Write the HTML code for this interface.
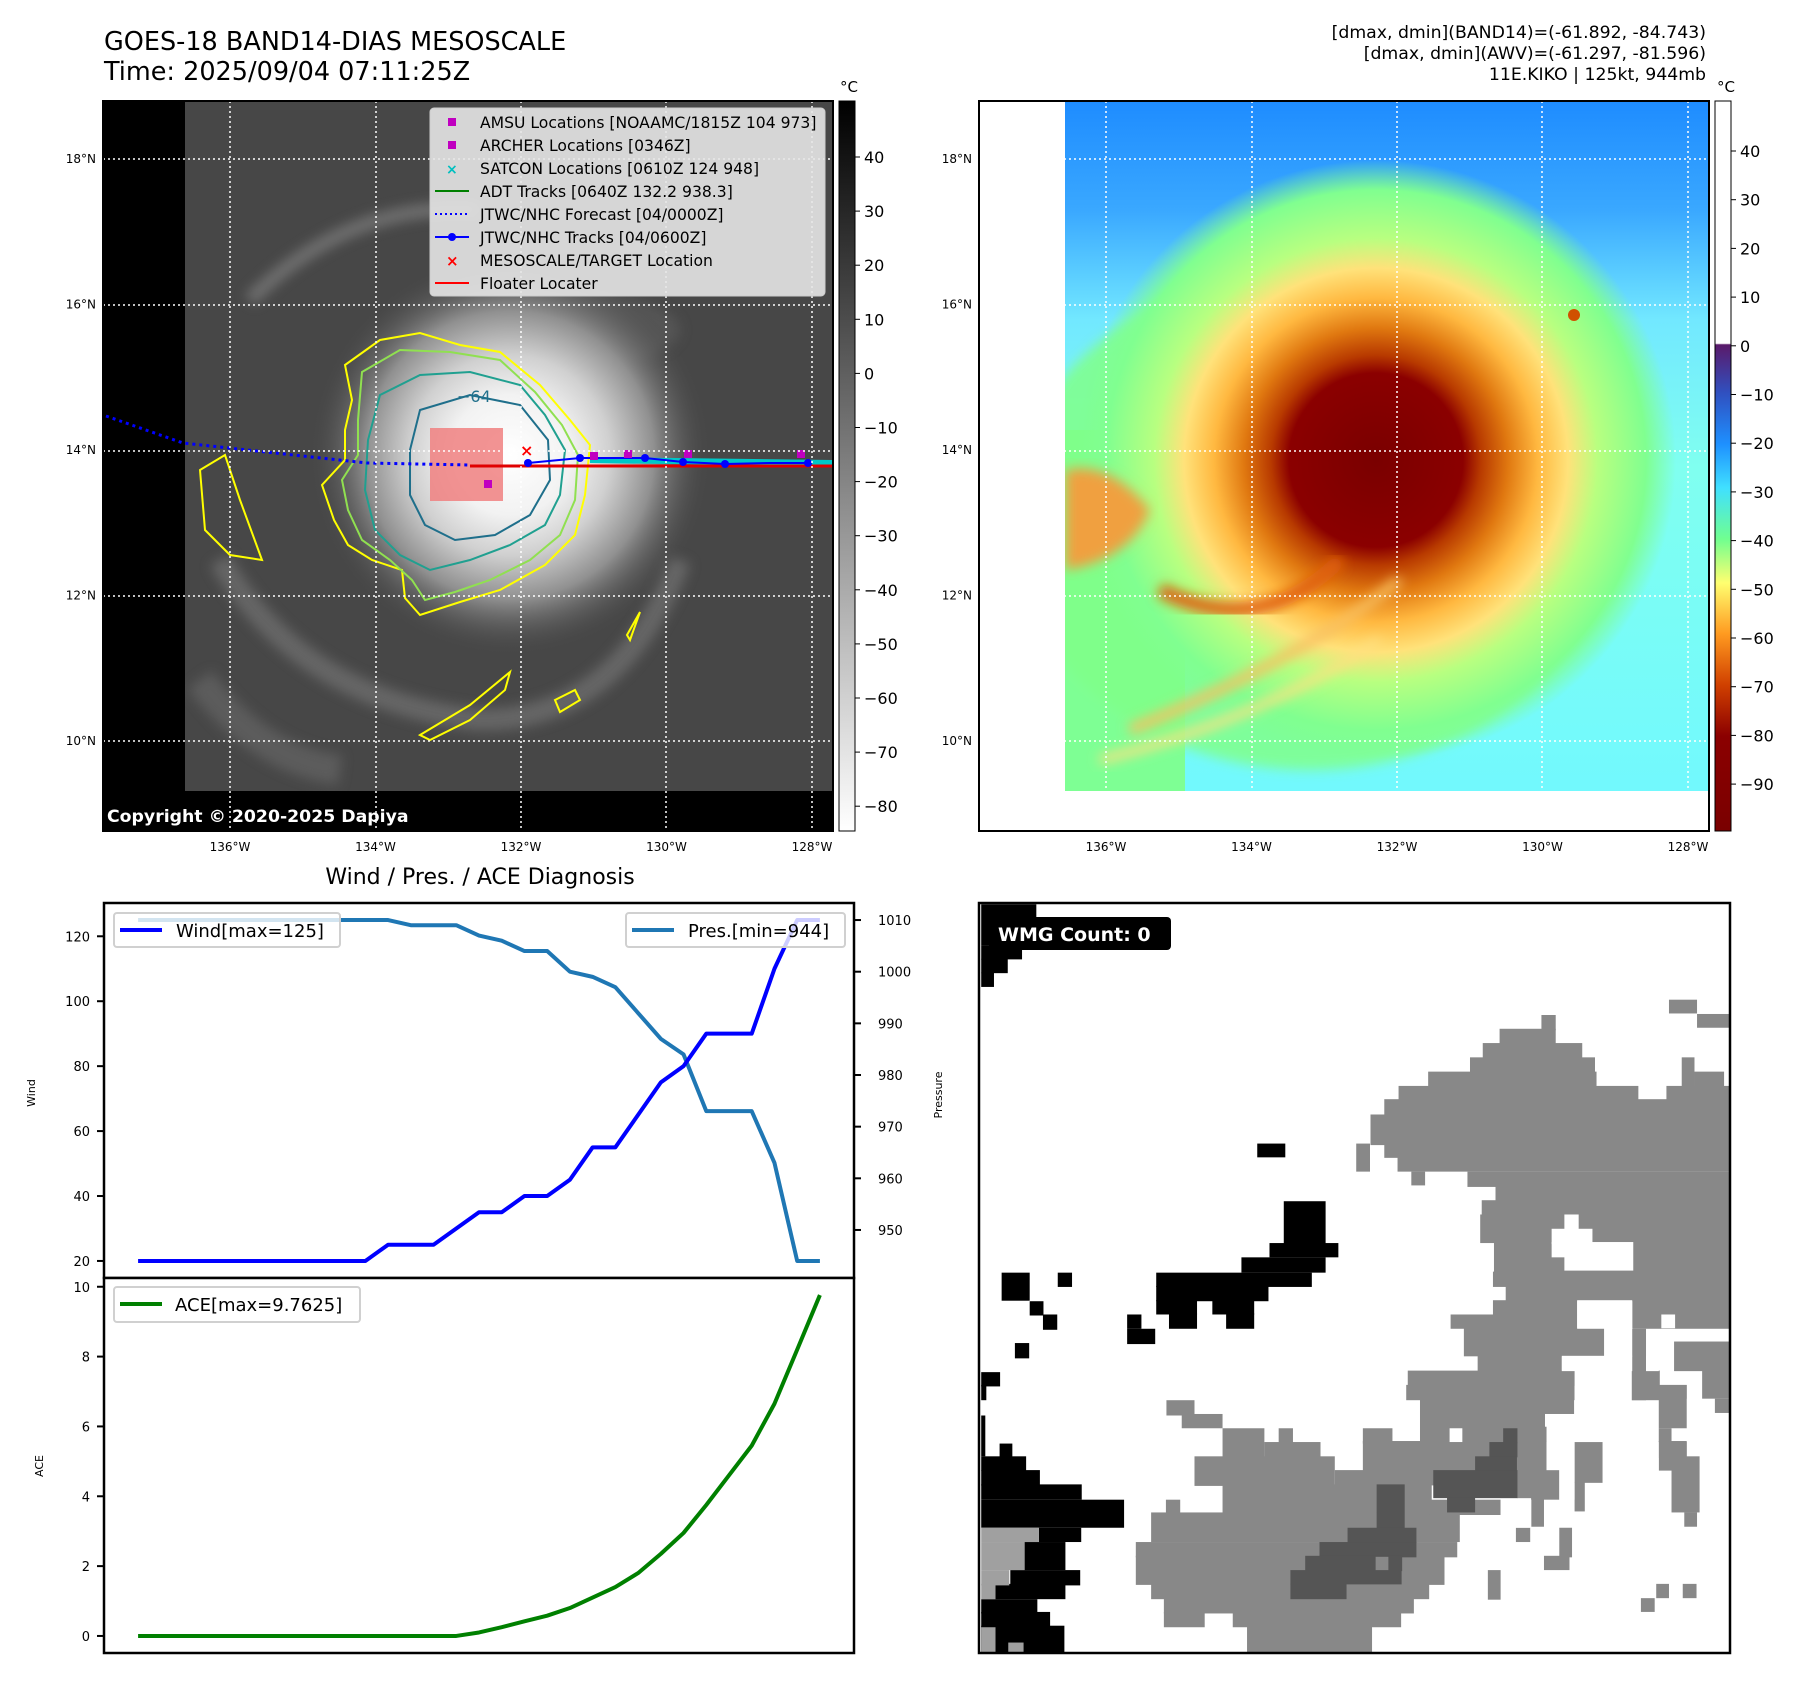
<!DOCTYPE html>
<html><head><meta charset="utf-8">
<style>
html,body{margin:0;padding:0;background:#fff;}
body{width:1797px;height:1690px;position:relative;overflow:hidden;font-family:"DejaVu Sans","Liberation Sans",sans-serif;}
svg text{font-family:"DejaVu Sans","Liberation Sans",sans-serif;}
</style></head>
<body>
<svg id="fig" width="1797" height="1690" viewBox="0 0 1797 1690" xmlns="http://www.w3.org/2000/svg">
<defs>
  <radialGradient id="irCore" cx="510" cy="455" r="200" gradientUnits="userSpaceOnUse">
    <stop offset="0" stop-color="#ffffff"/>
    <stop offset="0.3" stop-color="#f2f2f2"/>
    <stop offset="0.5" stop-color="#d0d0d0"/>
    <stop offset="0.72" stop-color="#909090"/>
    <stop offset="1" stop-color="#4a4a4a" stop-opacity="0"/>
  </radialGradient>
  <radialGradient id="awvCore" cx="1376" cy="460" r="300" gradientUnits="userSpaceOnUse">
    <stop offset="0" stop-color="#7a0000"/>
    <stop offset="0.29" stop-color="#8b0000"/>
    <stop offset="0.35" stop-color="#b83a00"/>
    <stop offset="0.44" stop-color="#e07810"/>
    <stop offset="0.54" stop-color="#ffb840"/>
    <stop offset="0.64" stop-color="#ffe27a"/>
    <stop offset="0.74" stop-color="#b8ff80"/>
    <stop offset="0.9" stop-color="#80ff90"/>
    <stop offset="1" stop-color="#80ff90" stop-opacity="0"/>
  </radialGradient>
  <linearGradient id="awvBg" x1="0" y1="101" x2="0" y2="831" gradientUnits="userSpaceOnUse">
    <stop offset="0" stop-color="#1e8cff"/>
    <stop offset="0.15" stop-color="#3aa8ff"/>
    <stop offset="0.3" stop-color="#72e8ff"/>
    <stop offset="0.5" stop-color="#80fff0"/>
    <stop offset="1" stop-color="#70f8ff"/>
  </linearGradient>
  <linearGradient id="grayCbar" x1="0" y1="101" x2="0" y2="831" gradientUnits="userSpaceOnUse">
    <stop offset="0" stop-color="#000"/>
    <stop offset="1" stop-color="#fff"/>
  </linearGradient>
  <linearGradient id="awvCbar" x1="0" y1="101" x2="0" y2="831" gradientUnits="userSpaceOnUse">
    <stop offset="0" stop-color="#fff"/>
    <stop offset="0.332" stop-color="#fff"/>
    <stop offset="0.334" stop-color="#5a1a6a"/>
    <stop offset="0.4" stop-color="#3050c0"/>
    <stop offset="0.47" stop-color="#1e90ff"/>
    <stop offset="0.53" stop-color="#40e0ff"/>
    <stop offset="0.6" stop-color="#70ff90"/>
    <stop offset="0.66" stop-color="#ffff70"/>
    <stop offset="0.73" stop-color="#ff9a20"/>
    <stop offset="0.8" stop-color="#d04000"/>
    <stop offset="0.87" stop-color="#8b0000"/>
    <stop offset="1" stop-color="#7a0000"/>
  </linearGradient>
  <clipPath id="clipL"><rect x="103" y="101" width="730" height="730"/></clipPath>
  <clipPath id="clipR"><rect x="979" y="101" width="730" height="730"/></clipPath>
  <clipPath id="clipRData"><rect x="1065" y="101" width="644" height="690"/></clipPath>
  <clipPath id="clipLData"><rect x="185" y="101" width="648" height="690"/></clipPath>
  <filter id="blur6"><feGaussianBlur stdDeviation="6"/></filter>
</defs>

<text x="104" y="50" font-size="25.5">GOES-18 BAND14-DIAS MESOSCALE</text>
<text x="104" y="80" font-size="25.5">Time: 2025/09/04 07:11:25Z</text>
<text x="1706" y="38" font-size="17.3" text-anchor="end">[dmax, dmin](BAND14)=(-61.892, -84.743)</text>
<text x="1706" y="59" font-size="17.3" text-anchor="end">[dmax, dmin](AWV)=(-61.297, -81.596)</text>
<text x="1706" y="80" font-size="17.3" text-anchor="end">11E.KIKO | 125kt, 944mb</text>

<!-- LEFT MAP -->
<g clip-path="url(#clipL)">
  <rect x="103" y="101" width="730" height="730" fill="#000"/>
  <g clip-path="url(#clipLData)">
  <rect x="185" y="101" width="648" height="690" fill="#474747"/>
  <g filter="url(#blur6)" opacity="0.6">
    <path d="M250 300 Q350 200 480 210" stroke="#8a8a8a" stroke-width="14" fill="none"/>
    <path d="M220 560 Q300 700 480 720 Q620 720 680 560" stroke="#7a7a7a" stroke-width="22" fill="none"/>
    <path d="M200 680 Q260 760 340 770" stroke="#6a6a6a" stroke-width="30" fill="none"/>
    <ellipse cx="560" cy="330" rx="120" ry="40" fill="#5f5f5f"/>
  </g>
  <circle cx="510" cy="455" r="200" fill="url(#irCore)"/>
  </g>
  <path d="M345 365 L380 340 L420 333 L460 345 L500 352 L540 385 L570 420 L590 445 L585 495 L575 535 L545 565 L500 590 L460 602 L420 615 L405 598 L402 570 L372 560 L348 545 L334 520 L322 485 L345 460 L345 430 L352 400 Z" fill="none" stroke="#ffff00" stroke-width="2"/>
  <path d="M362 372 L400 350 L450 352 L500 360 L535 392 L562 425 L578 455 L575 500 L560 535 L530 560 L490 580 L455 592 L425 600 L412 580 L390 560 L362 540 L348 510 L342 480 L358 455 L358 420 Z" fill="none" stroke="#90e050" stroke-width="2"/>
  <path d="M380 395 L420 375 L470 372 L520 385 L545 415 L565 450 L560 495 L545 525 L510 545 L470 560 L430 570 L400 555 L375 530 L365 490 L368 440 Z" fill="none" stroke="#20a090" stroke-width="2"/>
  <path d="M420 410 L470 395 L520 405 L548 440 L550 480 L530 515 L495 535 L455 540 L425 525 L410 495 L410 450 Z" fill="none" stroke="#1f6f8b" stroke-width="2"/>
  <path d="M200 470 L225 455 L240 500 L262 560 L230 555 L205 530 Z" fill="none" stroke="#ffff00" stroke-width="2"/>
  <path d="M420 735 L470 705 L510 672 L505 690 L470 720 L430 740 Z" fill="none" stroke="#ffff00" stroke-width="2"/>
  <path d="M555 700 L575 690 L580 700 L560 712 Z" fill="none" stroke="#ffff00" stroke-width="2"/>
  <path d="M627 635 L640 612 L630 640 Z" fill="none" stroke="#ffff00" stroke-width="2"/>
  <text x="457" y="402" font-size="16" fill="#1f6f8b">−64</text>
  <rect x="430" y="428" width="73" height="73" fill="#f08080" opacity="0.85"/>
  <polyline points="106,416 183,443 367,463 470,465" fill="none" stroke="#0000ff" stroke-width="3" stroke-dasharray="3,4"/>
  <line x1="590" y1="460" x2="833" y2="463" stroke="#00c8c8" stroke-width="6"/>
  <line x1="470" y1="466" x2="833" y2="466" stroke="#e00000" stroke-width="3"/>
  <polyline points="528,463 580,458 645,458 683,462 725,464 770,463 808,463" fill="none" stroke="#0000ff" stroke-width="2"/>
  <g fill="#0000ff"><circle cx="528" cy="463" r="4"/><circle cx="580" cy="458" r="4"/><circle cx="645" cy="458" r="4"/><circle cx="683" cy="462" r="4"/><circle cx="725" cy="464" r="4"/><circle cx="808" cy="463" r="4"/></g>
  <g fill="#c000c0"><rect x="590" y="452" width="8" height="8"/><rect x="624" y="450" width="8" height="8"/><rect x="684" y="450" width="8" height="8"/><rect x="797" y="450" width="8" height="8"/><rect x="484" y="480" width="8" height="8"/></g>
  <text x="520" y="456" font-size="16" fill="#ff0000" font-weight="bold">×</text>
  <g stroke="#fff" stroke-width="1.5" stroke-dasharray="2,3">
    <line x1="230" y1="101" x2="230" y2="831"/><line x1="376" y1="101" x2="376" y2="831"/><line x1="521" y1="101" x2="521" y2="831"/><line x1="666" y1="101" x2="666" y2="831"/><line x1="812" y1="101" x2="812" y2="831"/>
    <line x1="103" y1="159" x2="833" y2="159"/><line x1="103" y1="305" x2="833" y2="305"/><line x1="103" y1="451" x2="833" y2="451"/><line x1="103" y1="596" x2="833" y2="596"/><line x1="103" y1="741" x2="833" y2="741"/>
  </g>
  <g>
    <rect x="430" y="108" width="395" height="188" rx="4" fill="#e6e6e6" fill-opacity="0.9" stroke="#ccc"/>
    <rect x="448" y="118" width="8" height="8" fill="#c000c0"/>
    <text x="480" y="128" font-size="15.6">AMSU Locations [NOAAMC/1815Z 104 973]</text>
    <rect x="448" y="141" width="8" height="8" fill="#c000c0"/>
    <text x="480" y="151" font-size="15.6">ARCHER Locations [0346Z]</text>
    <text x="446" y="174" font-size="14" fill="#00bfbf" font-weight="bold">×</text>
    <text x="480" y="174" font-size="15.6">SATCON Locations [0610Z 124 948]</text>
    <line x1="435" y1="191" x2="469" y2="191" stroke="#008000" stroke-width="2"/>
    <text x="480" y="197" font-size="15.6">ADT Tracks [0640Z 132.2 938.3]</text>
    <line x1="435" y1="214" x2="469" y2="214" stroke="#0000ff" stroke-width="2" stroke-dasharray="2,3"/>
    <text x="480" y="220" font-size="15.6">JTWC/NHC Forecast [04/0000Z]</text>
    <line x1="435" y1="237" x2="469" y2="237" stroke="#0000ff" stroke-width="2"/><circle cx="452" cy="237" r="4" fill="#0000ff"/>
    <text x="480" y="243" font-size="15.6">JTWC/NHC Tracks [04/0600Z]</text>
    <text x="446" y="266" font-size="15" fill="#ff0000" font-weight="bold">×</text>
    <text x="480" y="266" font-size="15.6">MESOSCALE/TARGET Location</text>
    <line x1="435" y1="283" x2="469" y2="283" stroke="#ff0000" stroke-width="2"/>
    <text x="480" y="289" font-size="15.6">Floater Locater</text>
  </g>
  <text x="107" y="822" font-size="17.3" font-weight="bold" fill="#fff">Copyright © 2020-2025 Dapiya</text>
</g>
<rect x="103" y="101" width="730" height="730" fill="none" stroke="#000" stroke-width="2"/>

<g>
  <rect x="839" y="101" width="16" height="730" fill="url(#grayCbar)" stroke="#000" stroke-width="1"/>
  <text x="849" y="92" font-size="15" text-anchor="middle">°C</text>
  <g id="cbarLTicks" font-size="16"></g>
</g>

<g font-size="12" id="geoLabels"></g>

<!-- RIGHT MAP -->
<g clip-path="url(#clipR)">
  <rect x="979" y="101" width="730" height="730" fill="#fff"/>
  <g clip-path="url(#clipRData)">
    <rect x="1065" y="101" width="644" height="690" fill="url(#awvBg)"/>
    <ellipse cx="1310" cy="520" rx="300" ry="250" fill="#80ff90" opacity="0.9" filter="url(#blur6)"/>
    <rect x="1065" y="430" width="120" height="361" fill="#80ff88" opacity="0.9"/>
    <circle cx="1376" cy="460" r="300" fill="url(#awvCore)"/>
    <path d="M1065 470 Q1110 460 1150 510 Q1130 560 1065 570 Z" fill="#f0a040" filter="url(#blur6)"/>
    <path d="M1130 730 Q1300 660 1400 580" stroke="#f8c060" stroke-width="10" fill="none" filter="url(#blur6)"/>
    <path d="M1100 760 Q1260 720 1380 640" stroke="#ffe080" stroke-width="8" fill="none" filter="url(#blur6)"/>
    <path d="M1160 590 Q1260 640 1340 560" stroke="#e06010" stroke-width="14" fill="none" filter="url(#blur6)"/>
    <circle cx="1574" cy="315" r="6" fill="#d05000"/>
    <g stroke="#fff" stroke-width="1.5" stroke-dasharray="2,3">
      <line x1="1106" y1="101" x2="1106" y2="831"/><line x1="1252" y1="101" x2="1252" y2="831"/><line x1="1397" y1="101" x2="1397" y2="831"/><line x1="1542" y1="101" x2="1542" y2="831"/><line x1="1688" y1="101" x2="1688" y2="831"/>
      <line x1="979" y1="159" x2="1709" y2="159"/><line x1="979" y1="305" x2="1709" y2="305"/><line x1="979" y1="451" x2="1709" y2="451"/><line x1="979" y1="596" x2="1709" y2="596"/><line x1="979" y1="741" x2="1709" y2="741"/>
    </g>
  </g>
</g>
<rect x="979" y="101" width="730" height="730" fill="none" stroke="#000" stroke-width="2"/>
<g>
  <rect x="1715" y="101" width="16" height="730" fill="url(#awvCbar)" stroke="#000" stroke-width="1"/>
  <text x="1726" y="92" font-size="15" text-anchor="middle">°C</text>
  <g id="cbarRTicks" font-size="16"></g>
</g>

<text x="480" y="884" font-size="22" text-anchor="middle">Wind / Pres. / ACE Diagnosis</text>
<g id="charts"></g>

<!-- WMG panel -->
<g>
  <rect x="979" y="903" width="751" height="750" fill="#fff"/>
  <g transform="translate(970,890) scale(0.5102)">
    <g fill="#888888">
      <rect x="1038" y="272" width="110" height="30"/><rect x="1120" y="245" width="28" height="30"/>
      <rect x="1005" y="300" width="195" height="30"/><rect x="980" y="328" width="245" height="30"/>
      <rect x="898" y="356" width="330" height="30"/><rect x="840" y="384" width="470" height="30"/>
      <rect x="1365" y="384" width="123" height="30"/><rect x="1395" y="328" width="25" height="60"/><rect x="1420" y="356" width="58" height="30"/>
      <rect x="812" y="410" width="676" height="32"/><rect x="785" y="440" width="703" height="60"/>
      <rect x="812" y="497" width="676" height="28"/><rect x="838" y="524" width="650" height="28"/>
      <rect x="975" y="552" width="513" height="30"/><rect x="1030" y="580" width="458" height="30"/>
      <rect x="1003" y="608" width="485" height="30"/><rect x="1000" y="636" width="488" height="56"/>
      <rect x="1027" y="690" width="461" height="60"/><rect x="1025" y="748" width="463" height="30"/>
      <rect x="1050" y="776" width="438" height="30"/><rect x="1025" y="804" width="165" height="30"/>
      <rect x="1298" y="804" width="190" height="56"/><rect x="942" y="832" width="248" height="28"/>
      <rect x="968" y="858" width="275" height="56"/><rect x="995" y="913" width="165" height="30"/>
      <rect x="858" y="942" width="328" height="30"/><rect x="855" y="970" width="330" height="30"/>
      <rect x="882" y="997" width="302" height="30"/><rect x="882" y="1025" width="245" height="30"/>
      <rect x="882" y="1052" width="248" height="30"/><rect x="770" y="1055" width="58" height="30"/>
      <rect x="770" y="1080" width="360" height="60"/><rect x="440" y="1110" width="275" height="58"/>
      <rect x="495" y="1055" width="82" height="58"/><rect x="605" y="1055" width="28" height="30"/>
      <rect x="577" y="1082" width="110" height="30"/><rect x="385" y="1000" width="55" height="30"/>
      <rect x="415" y="1027" width="80" height="28"/><rect x="495" y="1165" width="410" height="60"/>
      <rect x="715" y="1137" width="300" height="30"/>
      <rect x="384" y="1195" width="28" height="30"/><rect x="355" y="1220" width="605" height="58"/>
      <rect x="900" y="1195" width="140" height="30"/>
      <rect x="325" y="1278" width="630" height="30"/>
      <rect x="325" y="1305" width="605" height="57"/><rect x="355" y="1360" width="545" height="30"/>
      <rect x="380" y="1388" width="490" height="30"/><rect x="380" y="1415" width="80" height="30"/>
      <rect x="515" y="1415" width="330" height="30"/><rect x="543" y="1442" width="245" height="52"/>
      <rect x="1072" y="1082" width="30" height="110"/><rect x="1100" y="1137" width="55" height="58"/>
      <rect x="1100" y="1190" width="25" height="58"/><rect x="1297" y="860" width="28" height="140"/>
      <rect x="1297" y="942" width="55" height="58"/><rect x="1350" y="970" width="55" height="85"/>
      <rect x="1350" y="1055" width="25" height="58"/><rect x="1350" y="1080" width="55" height="58"/>
      <rect x="1375" y="1110" width="55" height="110"/><rect x="1400" y="1220" width="25" height="28"/>
      <rect x="1435" y="942" width="53" height="55"/><rect x="1460" y="997" width="28" height="28"/>
      <rect x="1380" y="885" width="108" height="58"/>
      <rect x="1185" y="1082" width="55" height="80"/><rect x="1185" y="1160" width="20" height="58"/>
      <rect x="1070" y="1250" width="28" height="28"/><rect x="1155" y="1250" width="25" height="58"/>
      <rect x="1125" y="1305" width="50" height="28"/><rect x="1015" y="1333" width="25" height="58"/>
      <rect x="1345" y="1360" width="25" height="28"/><rect x="1397" y="1360" width="27" height="28"/>
      <rect x="1315" y="1388" width="27" height="27"/><rect x="1370" y="215" width="55" height="27"/>
      <rect x="1425" y="243" width="63" height="27"/><rect x="757" y="497" width="27" height="55"/>
      <rect x="865" y="552" width="27" height="27"/>
    </g>
    <g fill="#fff">
      <rect x="1165" y="636" width="28" height="30"/><rect x="1140" y="664" width="80" height="30"/>
      <rect x="1165" y="690" width="135" height="56"/><rect x="1140" y="690" width="30" height="30"/>
      <rect x="1355" y="832" width="27" height="27"/><rect x="1190" y="804" width="108" height="56"/>
      <rect x="1243" y="858" width="55" height="56"/><rect x="1160" y="913" width="138" height="30"/>
      <rect x="1325" y="913" width="25" height="30"/><rect x="1185" y="942" width="112" height="140"/>
      <rect x="1405" y="997" width="30" height="85"/><rect x="940" y="1055" width="25" height="27"/>
      <rect x="1130" y="1082" width="55" height="55"/><rect x="1155" y="1137" width="30" height="58"/>
      <rect x="1240" y="1082" width="110" height="140"/>
      <rect x="1040" y="1195" width="60" height="55"/>
    </g>
    <g fill="#555555">
      <rect x="1045" y="1055" width="28" height="30"/><rect x="1018" y="1082" width="55" height="30"/>
      <rect x="990" y="1110" width="82" height="30"/><rect x="908" y="1137" width="165" height="55"/>
      <rect x="935" y="1190" width="55" height="30"/><rect x="797" y="1165" width="55" height="90"/>
      <rect x="740" y="1250" width="135" height="30"/><rect x="685" y="1278" width="190" height="30"/>
      <rect x="657" y="1305" width="190" height="30"/><rect x="628" y="1333" width="218" height="28"/>
      <rect x="628" y="1360" width="110" height="30"/>
    </g>
    <rect x="795" y="1307" width="25" height="26" fill="#888"/>
    <g fill="#000">
      <rect x="22" y="28" width="108" height="80"/><rect x="22" y="108" width="80" height="28"/>
      <rect x="22" y="135" width="52" height="28"/><rect x="22" y="162" width="25" height="28"/>
      <rect x="563" y="497" width="55" height="27"/>
      <rect x="615" y="610" width="82" height="85"/><rect x="587" y="692" width="135" height="28"/>
      <rect x="532" y="720" width="165" height="30"/><rect x="365" y="750" width="305" height="28"/>
      <rect x="365" y="776" width="220" height="30"/><rect x="365" y="804" width="80" height="28"/>
      <rect x="390" y="830" width="55" height="30"/><rect x="475" y="804" width="82" height="28"/>
      <rect x="502" y="830" width="55" height="30"/><rect x="308" y="832" width="28" height="28"/>
      <rect x="308" y="860" width="55" height="30"/><rect x="62" y="750" width="55" height="55"/>
      <rect x="172" y="750" width="28" height="28"/><rect x="117" y="806" width="27" height="28"/>
      <rect x="143" y="832" width="28" height="30"/><rect x="88" y="888" width="28" height="30"/>
      <rect x="22" y="945" width="37" height="28"/><rect x="22" y="970" width="10" height="30"/>
      <rect x="22" y="1030" width="8" height="80"/><rect x="58" y="1085" width="25" height="28"/>
      <rect x="22" y="1110" width="88" height="28"/><rect x="22" y="1137" width="115" height="30"/>
      <rect x="22" y="1165" width="197" height="30"/><rect x="22" y="1195" width="280" height="55"/>
      <rect x="135" y="1250" width="83" height="28"/><rect x="107" y="1278" width="80" height="55"/>
      <rect x="79" y="1333" width="137" height="30"/><rect x="50" y="1360" width="137" height="30"/>
      <rect x="22" y="1390" width="110" height="28"/><rect x="22" y="1415" width="135" height="30"/>
      <rect x="22" y="1442" width="163" height="53"/>
    </g>
    <g fill="#a0a0a0">
      <rect x="22" y="1250" width="113" height="28"/><rect x="22" y="1278" width="85" height="55"/>
      <rect x="22" y="1333" width="55" height="30"/><rect x="22" y="1360" width="28" height="30"/>
      <rect x="22" y="1445" width="28" height="50"/><rect x="75" y="1475" width="30" height="20"/>
    </g>
  </g>
  <rect x="979" y="903" width="751" height="750" fill="none" stroke="#000" stroke-width="2.5"/>
  <rect x="989" y="917" width="182" height="33" rx="4" fill="#000"/>
  <text x="998" y="941" font-size="19" font-weight="bold" fill="#fff">WMG Count: 0</text>
</g>
</svg>

<script>
const timeIndex = [0,1,2,3,4,5,6,7,8,9,10,11,12,13,14,15,16,17,18,19,20,21,22,23,24,25,26,27,28,29,30];
const windValues = [20,20,20,20,20,20,20,20,20,20,20,25,25,25,30,35,35,40,40,45,55,55,65,75,80,90,90,90,110,125,125];
const presValues = [1010,1010,1010,1010,1010,1010,1010,1010,1010,1010,1010,1010,1009,1009,1009,1007,1006,1004,1004,1000,999,997,992,987,984,973,973,973,963,944,944];
const aceValues = [0,0,0,0,0,0,0,0,0,0,0,0,0,0,0,0.1,0.25,0.42,0.58,0.8,1.1,1.4,1.8,2.35,2.95,3.75,4.6,5.45,6.65,8.2,9.7625];
const windTicks = [20,40,60,80,100,120];
const presTicks = [950,960,970,980,990,1000,1010];
const aceTicks = [0,2,4,6,8,10];
const irCbarTicks = [40,30,20,10,0,-10,-20,-30,-40,-50,-60,-70,-80];
const awvCbarTicks = [40,30,20,10,0,-10,-20,-30,-40,-50,-60,-70,-80,-90];
const latLabels = ["18°N","16°N","14°N","12°N","10°N"];
const lonLabels = ["136°W","134°W","132°W","130°W","128°W"];

const NS = "http://www.w3.org/2000/svg";
function mk(tag, attrs, parent){ const e=document.createElementNS(NS,tag); for(const k in attrs) e.setAttribute(k,attrs[k]); parent.appendChild(e); return e; }

const AX = {x0:104, x1:854, top:903, mid:1278, bot:1653};
const xmin = -1.5, xmax = 31.5;
const sx = v => AX.x0 + (v - xmin)/(xmax - xmin)*(AX.x1-AX.x0);
const windLo=Math.min(...windValues), windHi=Math.max(...windValues), wPad=(windHi-windLo)*0.05;
const presLo=Math.min(...presValues), presHi=Math.max(...presValues), pPad=(presHi-presLo)*0.05;
const aceLo=Math.min(...aceValues), aceHi=Math.max(...aceValues), aPad=(aceHi-aceLo)*0.05;
const syW = v => AX.mid - (v-(windLo-wPad))/((windHi+wPad)-(windLo-wPad))*(AX.mid-AX.top);
const syP = v => AX.mid - (v-(presLo-pPad))/((presHi+pPad)-(presLo-pPad))*(AX.mid-AX.top);
const syA = v => AX.bot - (v-(aceLo-aPad))/((aceHi+aPad)-(aceLo-aPad))*(AX.bot-AX.mid);

const chartsG = document.getElementById('charts');

const topG = mk('g',{},chartsG);


mk('rect',{x:AX.x0,y:AX.top,width:AX.x1-AX.x0,height:AX.mid-AX.top,fill:'#fff'},topG);
const presLine = mk('polyline',{points:timeIndex.map((t,i)=>sx(t)+','+syP(presValues[i])).join(' '),fill:'none',stroke:'#1f77b4','stroke-width':4,'stroke-linejoin':'round'},topG);


const windLine = mk('polyline',{points:timeIndex.map((t,i)=>sx(t)+','+syW(windValues[i])).join(' '),fill:'none',stroke:'#0000ff','stroke-width':4,'stroke-linejoin':'round'},topG);


windTicks.forEach(v=>{
  const y=syW(v);
  mk('line',{x1:AX.x0-7,y1:y,x2:AX.x0,y2:y,stroke:'#000','stroke-width':2},topG);
  const t=mk('text',{x:AX.x0-14,y:y+5,'font-size':13,'text-anchor':'end'},topG); t.textContent=v;
  
  
});
presTicks.forEach(v=>{
  const y=syP(v);
  mk('line',{x1:AX.x1,y1:y,x2:AX.x1+7,y2:y,stroke:'#000','stroke-width':2},topG);
  const t=mk('text',{x:AX.x1+24,y:y+5,'font-size':13},topG); t.textContent=v;
  
  
});
mk('rect',{x:AX.x0,y:AX.top,width:AX.x1-AX.x0,height:AX.mid-AX.top,fill:'none',stroke:'#000','stroke-width':2.5},topG);
let yt=mk('text',{x:0,y:0,'font-size':11,'text-anchor':'middle',transform:'translate(35,1093) rotate(-90)'},topG); yt.textContent='Wind';


yt=mk('text',{x:0,y:0,'font-size':11,'text-anchor':'middle',transform:'translate(942,1095) rotate(-90)'},topG); yt.textContent='Pressure';


let lg=mk('g',{},topG);


mk('rect',{x:114,y:913,width:226,height:34,rx:3,fill:'#fff','fill-opacity':0.8,stroke:'#d0d0d0','stroke-width':2},lg);
mk('line',{x1:120,y1:930,x2:162,y2:930,stroke:'#0000ff','stroke-width':4},lg);
let lt=mk('text',{x:176,y:937,'font-size':18},lg); lt.textContent='Wind[max=125]';
lg=mk('g',{},topG);


mk('rect',{x:626,y:913,width:219,height:34,rx:3,fill:'#fff','fill-opacity':0.8,stroke:'#d0d0d0','stroke-width':2},lg);
mk('line',{x1:632,y1:930,x2:674,y2:930,stroke:'#1f77b4','stroke-width':4},lg);
lt=mk('text',{x:688,y:937,'font-size':18},lg); lt.textContent='Pres.[min=944]';

const botG = mk('g',{},chartsG);


mk('rect',{x:AX.x0,y:AX.mid,width:AX.x1-AX.x0,height:AX.bot-AX.mid,fill:'#fff'},botG);
const aceLine = mk('polyline',{points:timeIndex.map((t,i)=>sx(t)+','+syA(aceValues[i])).join(' '),fill:'none',stroke:'#008000','stroke-width':4,'stroke-linejoin':'round'},botG);


aceTicks.forEach(v=>{
  const y=syA(v);
  mk('line',{x1:AX.x0-7,y1:y,x2:AX.x0,y2:y,stroke:'#000','stroke-width':2},botG);
  const t=mk('text',{x:AX.x0-14,y:y+5,'font-size':13,'text-anchor':'end'},botG); t.textContent=v;
  
  
});
mk('rect',{x:AX.x0,y:AX.mid,width:AX.x1-AX.x0,height:AX.bot-AX.mid,fill:'none',stroke:'#000','stroke-width':2.5},botG);
yt=mk('text',{x:0,y:0,'font-size':11,'text-anchor':'middle',transform:'translate(43,1466) rotate(-90)'},botG); yt.textContent='ACE';


lg=mk('g',{},botG);


mk('rect',{x:114,y:1287,width:246,height:35,rx:3,fill:'#fff','fill-opacity':0.8,stroke:'#d0d0d0','stroke-width':2},lg);
mk('line',{x1:120,y1:1304,x2:162,y2:1304,stroke:'#008000','stroke-width':4},lg);
lt=mk('text',{x:175,y:1311,'font-size':18},lg); lt.textContent='ACE[max=9.7625]';

const cl=document.getElementById('cbarLTicks');
irCbarTicks.forEach(v=>{
  const y=157+(40-v)*5.41;
  mk('line',{x1:855,y1:y,x2:860,y2:y,stroke:'#000','stroke-width':1},cl);
  const t=mk('text',{x:864,y:y+6},cl); t.textContent=(v<0?'\u2212'+(-v):v);
  
  
});
const cr=document.getElementById('cbarRTicks');
awvCbarTicks.forEach(v=>{
  const y=151+(40-v)*4.87;
  mk('line',{x1:1731,y1:y,x2:1736,y2:y,stroke:'#000','stroke-width':1},cr);
  const t=mk('text',{x:1740,y:y+6},cr); t.textContent=(v<0?'\u2212'+(-v):v);
  
  
});
const gl=document.getElementById('geoLabels');
latLabels.forEach((s,i)=>{
  const y=159+i*145.5;
  [96,972].forEach(x=>{
    const t=mk('text',{x:x,y:y+4,'text-anchor':'end'},gl); t.textContent=s;
    
    
  });
});
lonLabels.forEach((s,i)=>{
  const x=230+i*145.5;
  [0,876].forEach(dx=>{
    const t=mk('text',{x:x+dx,y:851,'text-anchor':'middle'},gl); t.textContent=s;
    
    
  });
});
</script>
</body></html>
